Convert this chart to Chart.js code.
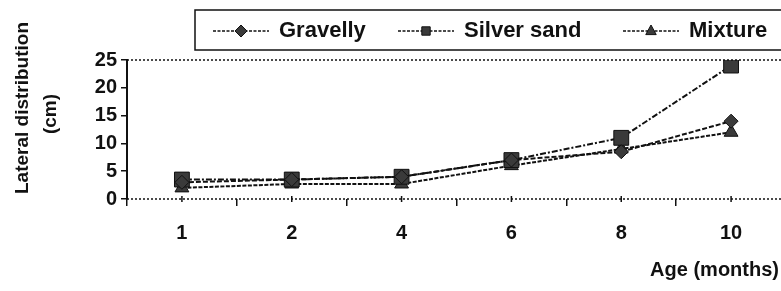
<!DOCTYPE html>
<html>
<head>
<meta charset="utf-8">
<script src="https://cdn.jsdelivr.net/npm/chart.js@4.4.1/dist/chart.umd.min.js"></script>
<style>
  html, body { margin: 0; padding: 0; background: #fff; overflow: hidden; }
  #wrap { position: absolute; left: 0; top: 0; width: 800px; height: 291px; }
</style>
</head>
<body>
<div id="wrap"><canvas id="chart"></canvas></div>
<script>
    // values
    var ageLabels = ['1', '2', '4', '6', '8', '10'];
    var gravelly = [3, 3.5, 4, 7, 8.5, 14];
    var silverSand = [3.5, 3.5, 4, 7, 11, 24];
    var mixture = [2, 2.7, 2.7, 6, 9, 12];
    var yTicks = [0, 5, 10, 15, 20, 25];

    var FONT = '"Liberation Sans", Arial, sans-serif';
    var ink = '#111';
    var markerFill = '#3a3a3a';

    function drawMarker(ctx, style, x, y, r) {
        ctx.beginPath();
        if (style === 'rectRot') {
            ctx.moveTo(x, y - r);
            ctx.lineTo(x + r, y);
            ctx.lineTo(x, y + r);
            ctx.lineTo(x - r, y);
        } else if (style === 'rect') {
            ctx.rect(x - r * 0.7, y - r * 0.7, r * 1.4, r * 1.4);
        } else {
            ctx.moveTo(x, y - r);
            ctx.lineTo(x + r * 0.87, y + r * 0.6);
            ctx.lineTo(x - r * 0.87, y + r * 0.6);
        }
        ctx.closePath();
        ctx.fillStyle = markerFill;
        ctx.fill();
        ctx.lineWidth = 1;
        ctx.strokeStyle = ink;
        ctx.stroke();
    }

    // legend box, axis titles and the dotted lines, Excel style
    var decorPlugin = {
        id: 'decor',
        afterDraw: function (chart) {
            var ctx = chart.ctx;
            var area = chart.chartArea;
            var y = chart.scales.y;
            var x = chart.scales.x;
            ctx.save();

            // dotted line at top value and dotted x axis
            ctx.strokeStyle = ink;
            ctx.lineWidth = 1.5;
            ctx.setLineDash([2, 2]);
            ctx.beginPath();
            ctx.moveTo(area.left, y.getPixelForValue(25));
            ctx.lineTo(area.right, y.getPixelForValue(25));
            ctx.moveTo(area.left, y.getPixelForValue(0));
            ctx.lineTo(area.right, y.getPixelForValue(0));
            ctx.stroke();
            ctx.setLineDash([]);

            // little crosses at the category centres
            ctx.lineWidth = 1.5;
            ctx.beginPath();
            for (var i = 0; i < ageLabels.length; i++) {
                var px = x.getPixelForValue(i);
                ctx.moveTo(px, area.bottom - 3);
                ctx.lineTo(px, area.bottom + 3);
            }
            ctx.stroke();

            // legend
            ctx.lineWidth = 1.5;
            ctx.strokeStyle = ink;
            ctx.strokeRect(195, 10, 620, 40);
            var items = chart.data.datasets;
            var itemX = [213, 398, 623];
            ctx.font = 'bold 22px ' + FONT;
            ctx.textBaseline = 'middle';
            ctx.textAlign = 'left';
            for (var j = 0; j < items.length; j++) {
                var lx = itemX[j];
                ctx.lineWidth = 1.5;
                ctx.setLineDash([3, 1.5]);
                ctx.beginPath();
                ctx.moveTo(lx, 31);
                ctx.lineTo(lx + 56, 31);
                ctx.stroke();
                ctx.setLineDash([]);
                drawMarker(ctx, items[j].pointStyle, lx + 28, 31, 6);
                ctx.fillStyle = ink;
                ctx.fillText(items[j].label, lx + 66, 31);
            }

            // axis titles
            ctx.fillStyle = ink;
            ctx.font = 'bold 19px ' + FONT;
            ctx.textAlign = 'center';
            ctx.save();
            ctx.translate(23, 108);
            ctx.rotate(-Math.PI / 2);
            ctx.fillText('Lateral distribution', 0, 0);
            ctx.restore();
            ctx.save();
            ctx.translate(51, 114);
            ctx.rotate(-Math.PI / 2);
            ctx.fillText('(cm)', 0, 0);
            ctx.restore();

            ctx.font = 'bold 20px ' + FONT;
            ctx.textAlign = 'right';
            ctx.fillText('Age (months)', 779, 270);
            ctx.restore();
        }
    };

    function buildDataset(label, values, style, radius, dash) {
        return {
            label: label,
            data: values,
            borderColor: ink,
            borderWidth: 2,
            borderDash: dash,
            pointStyle: style,
            pointRadius: radius,
            pointHoverRadius: radius,
            pointBackgroundColor: markerFill,
            pointBorderColor: ink,
            pointBorderWidth: 1,
            fill: false,
            tension: 0
        };
    }

    var ctx = document.getElementById('chart').getContext('2d');
    new Chart(ctx, {
        type: 'line',
        data: {
            labels: ageLabels,
            datasets: [
                buildDataset('Gravelly', gravelly, 'rectRot', 7, [5, 2]),
                buildDataset('Silver sand', silverSand, 'rect', 10.5, [6, 2, 2, 2]),
                buildDataset('Mixture', mixture, 'triangle', 8, [4, 1.5])
            ]
        },
        options: {
            responsive: true,
            maintainAspectRatio: false,
            animation: false,
            layout: { padding: { left: 0, right: 14, top: 60, bottom: 0 } },
            plugins: {
                legend: { display: false },
                tooltip: { enabled: false }
            },
            scales: {
                x: {
                    offset: true,
                    border: { display: false },
                    grid: {
                        offset: true,
                        drawOnChartArea: false,
                        drawTicks: true,
                        tickLength: 7,
                        color: ink,
                        lineWidth: 1.5
                    },
                    ticks: {
                        color: ink,
                        padding: 15,
                        maxRotation: 0,
                        font: { family: FONT, size: 20, weight: 'bold' }
                    },
                    afterFit: function (scale) { scale.height = 92; }
                },
                y: {
                    min: 0,
                    max: 25,
                    border: { display: true, color: ink, width: 2 },
                    grid: {
                        drawOnChartArea: false,
                        drawTicks: true,
                        tickLength: 6,
                        color: ink,
                        lineWidth: 1.5
                    },
                    afterBuildTicks: function (scale) {
                        scale.ticks = yTicks.map(function (v) { return { value: v }; });
                    },
                    ticks: {
                        color: ink,
                        padding: 4,
                        font: { family: FONT, size: 20, weight: 'bold' }
                    },
                    afterFit: function (scale) { scale.width = 127; }
                }
            }
        },
        plugins: [decorPlugin]
    });
</script>
</body>
</html>
